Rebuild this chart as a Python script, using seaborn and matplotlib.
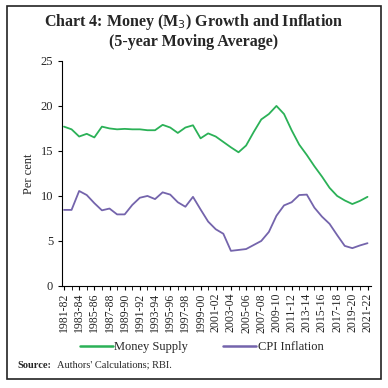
import pandas as pd
import matplotlib.pyplot as plt
import seaborn as sns
import numpy as np
from matplotlib.patches import Rectangle
from matplotlib.lines import Line2D

# Data
years = [f'{y}-{str(y + 1)[-2:]}' for y in range(1981, 2022)]
money_supply = [17.7, 17.4, 16.6, 16.9, 16.5, 17.7, 17.5, 17.4, 17.45, 17.4,
                17.4, 17.3, 17.3, 17.9, 17.6, 17.0, 17.6, 17.85, 16.4, 16.95,
                16.6, 16.0, 15.4, 14.85, 15.6, 17.1, 18.5, 19.1, 20.0, 19.1,
                17.3, 15.7, 14.55, 13.3, 12.15, 10.9, 10.0, 9.5, 9.1, 9.45, 9.9]
cpi_inflation = [8.45, 8.45, 10.55, 10.1, 9.2, 8.4, 8.6, 7.95, 7.95, 9.0,
                 9.8, 10.0, 9.65, 10.4, 10.15, 9.3, 8.8, 9.9, 8.5, 7.15,
                 6.3, 5.8, 3.9, 4.0, 4.1, 4.55, 5.0, 6.0, 7.8, 8.95,
                 9.3, 10.1, 10.15, 8.7, 7.7, 6.9, 5.65, 4.45, 4.2, 4.5, 4.75]

df = pd.DataFrame({'pos': range(len(years)), 'year': years,
                   'Money Supply': money_supply, 'CPI Inflation': cpi_inflation})
long = df.melt(id_vars=['pos', 'year'], var_name='series', value_name='value')

palette = {'Money Supply': '#2bb157', 'CPI Inflation': '#7464ac'}
SERIF = ['Liberation Serif', 'DejaVu Serif']

sns.set_style('ticks')
plt.rcParams['font.family'] = SERIF

fig = plt.figure(figsize=(3.88, 3.88), dpi=100)
ax = fig.add_axes([0.16, 0.263, 0.795, 0.58])
sns.lineplot(data=long, x='pos', y='value', hue='series', palette=palette,
             linewidth=1.3, ax=ax, legend=False)

ax.set_ylim(0, 25)
ax.set_yticks(range(0, 26, 5))
ax.set_xlim(-0.25, len(years) - 0.6)
ax.set_xticks(range(0, len(years), 2))
ax.set_xticklabels(years[::2], rotation=90, fontsize=8.5)
ax.set_xticks(range(len(years)), minor=True)
ax.tick_params(axis='y', labelsize=9, length=3, color='black')
ax.tick_params(axis='x', which='both', length=3, color='black', pad=2)
ax.set_xlabel('')
ax.set_ylabel('Per cent', fontsize=9)
ax.spines[['top', 'right']].set_visible(False)
for s in ['left', 'bottom']:
    ax.spines[s].set_color('black')
    ax.spines[s].set_linewidth(0.8)

fig.text(0.5, 0.943, 'Chart 4: Money (M$_3$) Growth and Inflation',
         ha='center', va='center', fontsize=11.5, fontweight='bold')
fig.text(0.5, 0.893, '(5-year Moving Average)',
         ha='center', va='center', fontsize=11.5, fontweight='bold')

# Legend
handles = [Line2D([], [], color=palette[k], linewidth=1.8) for k in palette]
fig.legend(handles, list(palette.keys()), loc='center', bbox_to_anchor=(0.52, 0.105),
           ncol=2, frameon=False, fontsize=9, handlelength=2.6,
           handletextpad=0.15, columnspacing=2.8)

fig.text(0.045, 0.058, 'Source:', fontsize=7.5, fontweight='bold', va='center')
fig.text(0.147, 0.058, "Authors' Calculations; RBI.", fontsize=7.5, va='center')

fig.patches.append(Rectangle((0.018, 0.023), 0.964, 0.962, transform=fig.transFigure,
                             fill=False, edgecolor='#222222', linewidth=1.2))

plt.savefig('out.png', dpi=100)
